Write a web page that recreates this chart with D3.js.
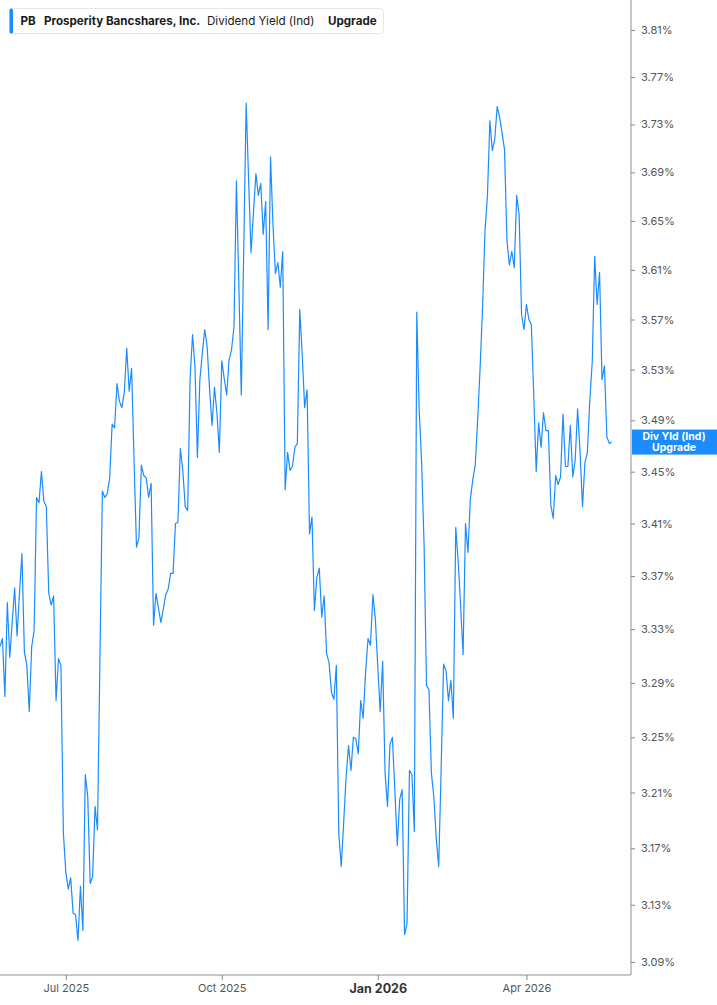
<!DOCTYPE html>
<html>
<head>
<meta charset="utf-8">
<script src="https://cdn.jsdelivr.net/npm/d3@7"></script>
<style>
  html, body { margin: 0; padding: 0; background: #fff; }
  svg { display: block; font-family: Inter, "Noto Sans", sans-serif; }
</style>
</head>
<body>
<svg id="chart" width="717" height="1005"></svg>
<script>
// ---------- DATA ----------
const ticker = "PB";
const companyName = "Prosperity Bancshares, Inc.";
const metricName = "Dividend Yield (Ind)";
const upgradeText = "Upgrade";
const endLabelLines = ["Div Yld (Ind)", "Upgrade"];

const startDate = "2025-05-21";
const marketHolidays = ["2025-05-26", "2025-06-19", "2025-07-04", "2025-09-01", "2025-11-27",
  "2025-12-25", "2026-01-01", "2026-01-19", "2026-02-16", "2026-04-03"];

// Dividend yield (%) per trading day
const yieldValues = [
  3.317, 3.323, 3.280, 3.350, 3.309, 3.335, 3.361, 3.325, 3.357, 3.387,
  3.313, 3.303, 3.269, 3.317, 3.329, 3.430, 3.426, 3.450, 3.427, 3.423,
  3.357, 3.348, 3.355, 3.277, 3.308, 3.303, 3.181, 3.153, 3.141, 3.149,
  3.124, 3.123, 3.105, 3.143, 3.112, 3.223, 3.207, 3.145, 3.150, 3.200, 3.183,
  3.307, 3.435, 3.430, 3.433, 3.445, 3.487, 3.484, 3.519, 3.505, 3.500,
  3.512, 3.547, 3.513, 3.531, 3.459, 3.392, 3.399, 3.455, 3.447, 3.445, 3.430, 3.441,
  3.333, 3.357, 3.346, 3.335, 3.345, 3.356, 3.360, 3.372, 3.372, 3.410,
  3.411, 3.468, 3.451, 3.423, 3.420, 3.523, 3.558, 3.532, 3.461, 3.522,
  3.543, 3.562, 3.548, 3.514, 3.486, 3.516, 3.496, 3.465, 3.537, 3.523,
  3.510, 3.538, 3.546, 3.564,
  3.683, 3.598, 3.510, 3.626, 3.748, 3.684, 3.624, 3.657, 3.689, 3.671,
  3.681, 3.639, 3.666, 3.562, 3.703, 3.647, 3.607, 3.616, 3.596, 3.625,
  3.436, 3.465, 3.451, 3.454, 3.469, 3.472, 3.578, 3.542, 3.500, 3.514,
  3.402, 3.415, 3.344, 3.369, 3.376, 3.339, 3.355, 3.312, 3.305, 3.283,
  3.278, 3.303, 3.181, 3.157, 3.188, 3.221, 3.244, 3.226, 3.250, 3.249,
  3.238, 3.277, 3.264, 3.298, 3.323, 3.318, 3.356, 3.338, 3.302, 3.269,
  3.306, 3.224, 3.200, 3.245, 3.250,
  3.212, 3.172, 3.205, 3.212, 3.109, 3.117, 3.226, 3.223, 3.182, 3.576,
  3.498, 3.457, 3.394, 3.288, 3.285, 3.224, 3.207, 3.177, 3.157, 3.227,
  3.304, 3.299, 3.277, 3.292, 3.264, 3.407, 3.381, 3.347, 3.311, 3.410, 3.388,
  3.429, 3.444, 3.455, 3.491, 3.532, 3.580, 3.642, 3.671, 3.733, 3.708,
  3.718, 3.745, 3.736, 3.723, 3.709, 3.634, 3.614, 3.625, 3.612, 3.671,
  3.655, 3.574, 3.562, 3.582, 3.570, 3.566, 3.510, 3.450, 3.488, 3.469,
  3.496, 3.482, 3.482,
  3.424, 3.414, 3.447, 3.440, 3.446, 3.495, 3.454, 3.454, 3.486, 3.446,
  3.459, 3.499, 3.465, 3.423, 3.457, 3.465, 3.506, 3.536, 3.621, 3.582,
  3.608, 3.522, 3.533, 3.477, 3.472, 3.473
];

const yTickValues = [3.09, 3.13, 3.17, 3.21, 3.25, 3.29, 3.33, 3.37, 3.41, 3.45,
  3.49, 3.53, 3.57, 3.61, 3.65, 3.69, 3.73, 3.77, 3.81];
const xTickMonths = ["2025-07", "2025-10", "2026-01", "2026-04"];
const xTickLabels = ["Jul 2025", "Oct 2025", "Jan 2026", "Apr 2026"];
const xTickBold = [false, false, true, false];

// ---------- trading dates ----------
const parse = d3.utcParse("%Y-%m-%d");
const fmtDay = d3.utcFormat("%Y-%m-%d");
const fmtMonth = d3.utcFormat("%Y-%m");
const holidaySet = new Set(marketHolidays);
const dates = [];
let cur = parse(startDate);
while (dates.length < yieldValues.length) {
  const wd = cur.getUTCDay();
  if (wd !== 0 && wd !== 6 && !holidaySet.has(fmtDay(cur))) dates.push(cur);
  cur = d3.utcDay.offset(cur, 1);
}
const data = yieldValues.map((v, i) => ({ i, date: dates[i], v }));

// ---------- layout ----------
const W = 717, H = 1005;
const plotRight = 631, axisY = 975;
const blue = "#1a8cff";
const svg = d3.select("#chart");

const x = d3.scaleLinear().domain([0, 258.9]).range([0, plotRight]);
const y = d3.scaleLog().domain([3.09, 3.81]).range([962, 30]);

svg.append("defs").append("clipPath").attr("id", "clip")
  .append("rect").attr("x", 0).attr("y", 0).attr("width", plotRight).attr("height", axisY);

// line
svg.append("path")
  .datum(data)
  .attr("clip-path", "url(#clip)")
  .attr("fill", "none")
  .attr("stroke", blue)
  .attr("stroke-width", 1.2)
  .attr("stroke-linejoin", "round")
  .attr("d", d3.line().x(d => x(d.i)).y(d => y(d.v)));

// right axis
const axisColor = "#b5b5b5";
svg.append("line").attr("x1", plotRight).attr("x2", plotRight).attr("y1", 0).attr("y2", axisY)
  .attr("stroke", axisColor).attr("stroke-width", 1.5);
const yAxis = svg.append("g").attr("transform", `translate(${plotRight},0)`)
  .call(d3.axisRight(y).tickValues(yTickValues).tickSize(4).tickPadding(6)
    .tickFormat(d => d.toFixed(2) + "%"));
yAxis.select(".domain").remove();
yAxis.selectAll(".tick line").attr("stroke", "#888");
yAxis.selectAll(".tick text").attr("fill", "#555").style("font-size", "11px")
  .style("font-family", "Inter, sans-serif");

// bottom axis
svg.append("line").attr("x1", 0).attr("x2", plotRight).attr("y1", axisY).attr("y2", axisY)
  .attr("stroke", axisColor).attr("stroke-width", 1.5);
const tickIdx = xTickMonths.map(m => data.findIndex(d => fmtMonth(d.date) === m));
const xAxis = svg.append("g").attr("transform", `translate(0,${axisY})`)
  .call(d3.axisBottom(x).tickValues(tickIdx).tickSize(5).tickPadding(4)
    .tickFormat((d, k) => xTickLabels[k]));
xAxis.select(".domain").remove();
xAxis.selectAll(".tick line").attr("stroke", "#888");
xAxis.selectAll(".tick text")
  .attr("fill", (d, k) => xTickBold[k] ? "#333" : "#555")
  .style("font-weight", (d, k) => xTickBold[k] ? "700" : "400")
  .style("font-size", (d, k) => xTickBold[k] ? "12.5px" : "11px")
  .style("font-family", "Inter, sans-serif");

// end label
const last = data[data.length - 1];
const ly = y(last.v);
const lab = svg.append("g");
lab.append("rect").attr("x", plotRight + 1).attr("y", ly - 12.5).attr("width", W - plotRight - 1).attr("height", 25)
  .attr("fill", blue);
lab.selectAll("text").data(endLabelLines).join("text")
  .attr("x", (plotRight + W) / 2).attr("y", (d, k) => ly - 2.5 + k * 11)
  .attr("text-anchor", "middle").attr("fill", "#fff")
  .style("font-size", "10.5px").style("font-weight", "700")
  .text(d => d);

// legend
const lg = svg.append("g");
lg.append("rect").attr("x", 9.5).attr("y", 8.5).attr("width", 374).attr("height", 25).attr("rx", 3)
  .attr("fill", "#fff").attr("stroke", "#e6e6e6");
lg.append("rect").attr("x", 9.5).attr("y", 8.5).attr("width", 3.5).attr("height", 25).attr("rx", 1.5)
  .attr("fill", blue);
const legendItems = [
  { t: ticker, x: 20.5, w: 700 },
  { t: companyName, x: 44, w: 700 },
  { t: metricName, x: 207, w: 400 },
  { t: upgradeText, x: 328, w: 700 }
];
lg.selectAll("text.li").data(legendItems).join("text").attr("class", "li")
  .attr("x", d => d.x).attr("y", 25)
  .attr("fill", "#1a1a1a").style("font-size", "11.6px")
  .style("font-weight", d => d.w).text(d => d.t);
</script>
</body>
</html>
